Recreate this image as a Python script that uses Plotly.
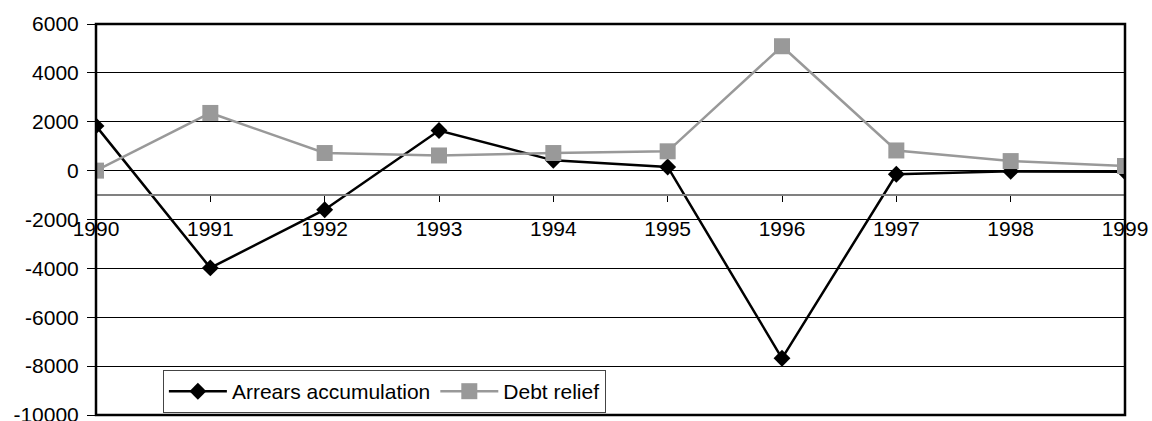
import plotly.graph_objects as go

# Annual flows, 1990-1999
years = [1990, 1991, 1992, 1993, 1994, 1995, 1996, 1997, 1998, 1999]
arrears_accumulation = [1830, -3980, -1600, 1640, 420, 150, -7680, -150, -30, -50]
debt_relief = [0, 2360, 720, 620, 720, 790, 5090, 825, 390, 190]

y_ticks = [6000, 4000, 2000, 0, -2000, -4000, -6000, -8000, -10000]
y_min, y_max = -10000, 6000
x_cross = -1000  # value at which the category axis crosses the value axis

font = dict(family="Arial, 'Liberation Sans', sans-serif", size=21, color="black")

fig = go.Figure()
fig.add_trace(go.Scatter(
    x=years, y=arrears_accumulation, name="Arrears accumulation",
    mode="lines+markers",
    line=dict(color="black", width=2.5),
    marker=dict(symbol="diamond", size=13, color="black"),
))
fig.add_trace(go.Scatter(
    x=years, y=debt_relief, name="Debt relief",
    mode="lines+markers",
    line=dict(color="#999999", width=2.5),
    marker=dict(symbol="square", size=16, color="#999999"),
))

# Frame around the plot area
fig.add_shape(type="rect", xref="paper", yref="paper", x0=0, x1=1, y0=0, y1=1,
              line=dict(color="black", width=2.5), layer="above")

fig.update_layout(
    width=1152, height=421,
    margin=dict(l=96, r=27, t=24, b=6),
    paper_bgcolor="white", plot_bgcolor="white",
    font=font,
    showlegend=True,
    legend=dict(
        x=0.065, y=0.115, xanchor="left", yanchor="top",
        orientation="h",
        bgcolor="white", bordercolor="#444444", borderwidth=1,
        font=font, itemwidth=58,
        tracegroupgap=0,
    ),
    xaxis=dict(
        range=[years[0], years[-1]],
        tickmode="array", tickvals=years, ticktext=[str(y) for y in years],
        anchor="free",
        position=(x_cross - y_min) / (y_max - y_min),
        showline=True, linecolor="#808080", linewidth=1.5,
        ticks="outside", ticklen=6, tickcolor="black", tickwidth=1,
        ticklabelstandoff=9,
        ticklabeloverflow="allow",
        automargin=False,
        showgrid=False, zeroline=False,
        tickfont=font,
    ),
    yaxis=dict(
        range=[y_min, y_max],
        tickmode="array", tickvals=y_ticks, ticktext=[str(v) for v in y_ticks],
        showline=False,
        ticks="outside", ticklen=8, tickcolor="black", tickwidth=1,
        ticklabelstandoff=4,
        ticklabeloverflow="allow",
        automargin=False,
        showgrid=True, gridcolor="black", gridwidth=1,
        zeroline=False,
        tickfont=font,
    ),
)

fig.write_html("out.html")
